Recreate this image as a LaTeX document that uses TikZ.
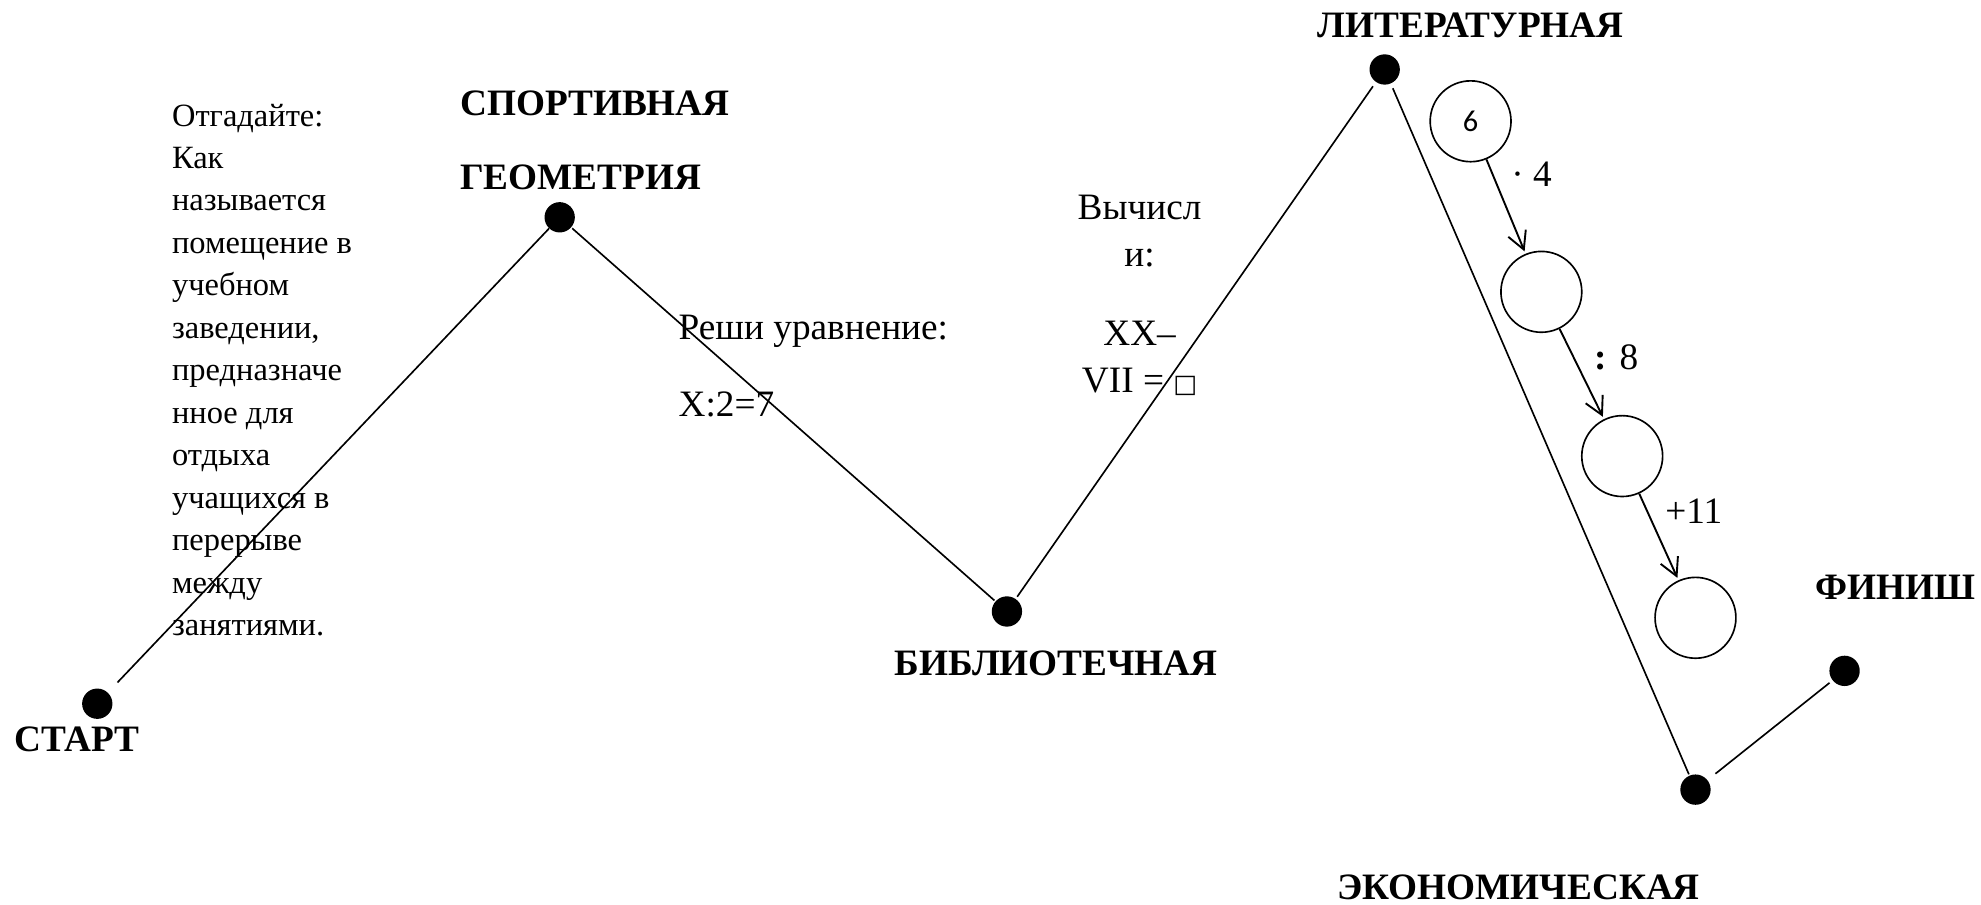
\documentclass[tikz,border=0pt]{standalone}
\usepackage{fontspec}
\setmainfont{Liberation Serif}
\newfontfamily\symf{DejaVu Sans}
\newfontfamily\calf{Carlito}
\usetikzlibrary{arrows.meta}
\begin{document}
\begin{tikzpicture}[x=1pt,y=-1pt,
  dot/.style={circle,fill=black,minimum size=24pt,inner sep=0pt},
  lbl/.style={font=\fontsize{29.5}{34}\selectfont\bfseries,inner sep=0pt},
  txt/.style={font=\fontsize{29.5}{34}\selectfont,inner sep=0pt},
  small/.style={font=\fontsize{25.7}{33.6}\selectfont,inner sep=0pt,align=left},
  ring/.style={circle,draw,line width=1.3pt,minimum size=64pt,inner sep=0pt},
  path/.style={line width=1.3pt},
  step arrow/.style={line width=1.5pt,shorten >=2pt,-{Straight Barb[length=14pt,width=15pt,line width=1.5pt]}}]
\useasboundingbox (0,0) rectangle (1568,716.3);
% stations
\node[dot] (start) at (77,557) {};
\node[dot] (geom) at (443,172) {};
\node[dot] (bibl) at (797,484) {};
\node[dot] (lit) at (1096,55) {};
\node[dot] (econ) at (1342,625) {};
\node[dot] (fin) at (1460,531) {};
% route
\draw[path,shorten <=11pt] (start) -- (geom);
\draw[path,shorten <=1pt,shorten >=1pt] (geom) -- (bibl);
\draw[path,shorten <=2pt,shorten >=4pt] (bibl) -- (lit);
\draw[path,shorten <=4pt,shorten >=1pt] (lit) -- (econ);
\draw[path,shorten <=8pt,shorten >=3pt] (econ) -- (fin);
% station labels
\node[lbl] (startlbl) at (61,585) {СТАРТ};
\node[lbl,anchor=west] (sportlbl) at (364,82) {СПОРТИВНАЯ};
\node[lbl,anchor=west] (geomlbl) at (364,140) {ГЕОМЕТРИЯ};
\node[lbl] (bibllbl) at (836,525) {БИБЛИОТЕЧНАЯ};
\node[lbl] (litlbl) at (1164,20) {ЛИТЕРАТУРНАЯ};
\node[lbl] (finlbl) at (1500,465) {ФИНИШ};
\node[lbl] (econlbl) at (1202,702) {ЭКОНОМИЧЕСКАЯ};
% tasks
\node[small,anchor=north west] (riddle) at (136,82) {Отгадайте:\\Как\\называется\\помещение в\\учебном\\заведении,\\предназначе\\нное для\\отдыха\\учащихся в\\перерыве\\между\\занятиями.};
\node[txt,anchor=west] (eq1) at (537,262) {Реши уравнение:};
\node[txt,anchor=west] (eq2) at (537,320) {X:2=7};
\node[txt] (calc1) at (902,164) {Вычисл};
\node[txt] (calc2) at (902,204) {и:};
\node[txt] (calc3) at (902,264) {XX–};
\node[txt] (calc4) at (902,302) {VII = {\symf\fontsize{20}{24}\selectfont □}};
% chain
\node[ring,font=\calf\fontsize{24}{28}\selectfont] (c1) at (1164,96) {6};
\node[ring] (c2) at (1220,231) {};
\node[ring] (c3) at (1284,361) {};
\node[ring] (c4) at (1342,489) {};
\draw[step arrow] (c1) -- (c2);
\draw[step arrow] (c2) -- (c3);
\draw[step arrow] (c3) -- (c4);
\node[txt,anchor=west] (op1) at (1196,138) {· 4};
\node[txt,anchor=west] (op2) at (1262,283) {\textbf{:} 8};
\node[txt,anchor=west] (op3) at (1318,405) {+11};
\end{tikzpicture}
\end{document}
